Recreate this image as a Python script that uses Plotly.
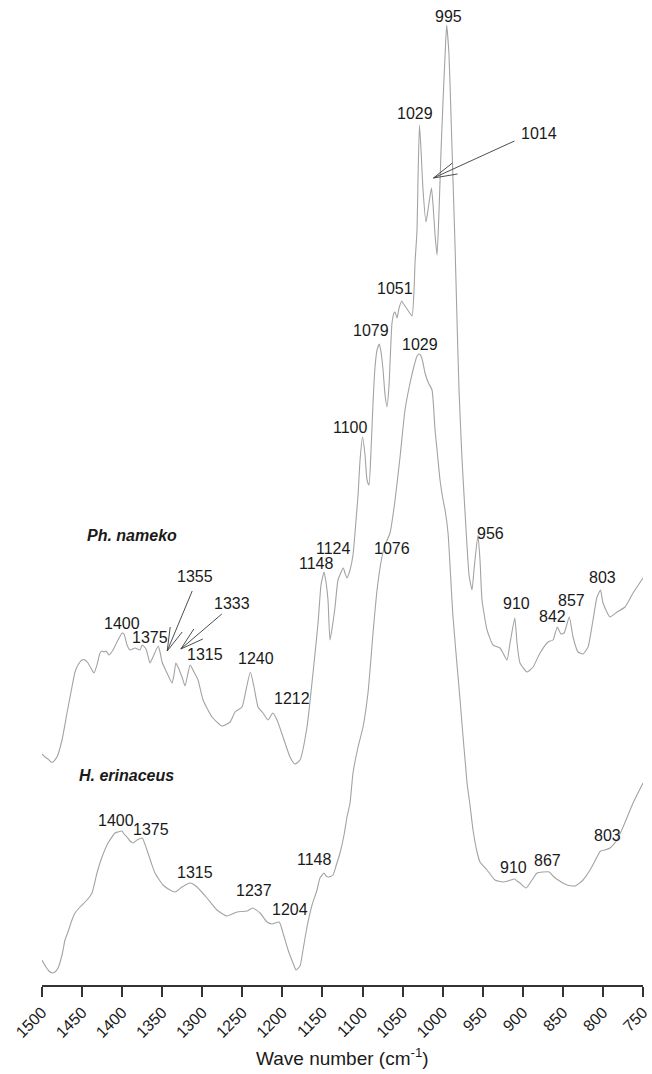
import numpy as np
import plotly.graph_objects as go

# ---------------- spectra (wavenumber in cm-1, absorbance in a.u.) ----------------
nameko_wn = [1500, 1496.3, 1492.5, 1488.8, 1486.3, 1481.3, 1475.0, 1468.8, 1462.6, 1458.8,
             1455.1, 1450.1, 1446.3, 1442.6, 1437.6, 1435.1, 1431.4, 1427.6, 1425.1, 1422.6,
             1420.1, 1416.4, 1411.4, 1406.4, 1400, 1397.7, 1393.9, 1390.2, 1383.9, 1377.7,
             1375, 1370.2, 1365.2, 1361.5, 1355, 1352.7, 1350.2, 1344.0, 1337.8, 1335.3,
             1333, 1330.3, 1325.3, 1321.5, 1317.8, 1315, 1310.3, 1305.3, 1299.0, 1287.8,
             1275.3, 1265.3, 1259.1, 1250.4, 1245.4, 1240, 1235.4, 1230.4, 1224.2, 1218.0,
             1212, 1206.7, 1199.2, 1190.5, 1184.3, 1178.0, 1169.3, 1161.8, 1155.5, 1151.8,
             1148, 1145.6, 1143.1, 1140.6, 1136.8, 1134.3, 1130.6, 1124, 1121.9, 1119.4,
             1115.6, 1111.9, 1108.1, 1105.6, 1103.1, 1100, 1096.9, 1094.4, 1091.9, 1089.4,
             1086.9, 1084.4, 1081.9, 1079, 1076.9, 1074.4, 1071.9, 1069.4, 1066.9, 1065.7,
             1063.2, 1060.7, 1059.4, 1056.9, 1054.4, 1051, 1049.5, 1047.0, 1042.0, 1038.2,
             1035.7, 1034.5, 1032.0, 1030.8, 1029, 1027.0, 1024.5, 1020.8, 1018.3, 1014,
             1012.0, 1009.5, 1007.0, 1004.5, 1002.0, 999.5, 997.0, 995, 992.1, 989.6,
             987.1, 984.6, 982.1, 979.6, 975.8, 970.8, 967.1, 963.4, 960.9, 956,
             953.4, 950.9, 944.6, 937.1, 928.4, 924.7, 919.7, 915.9, 910, 907.2,
             903.5, 894.7, 887.2, 878.5, 868.5, 862.3, 857, 852.3, 848.5, 842,
             837.3, 831.1, 824.9, 818.6, 812.4, 807.4, 803, 799.9, 791.2, 782.4,
             772.4, 762.4, 750]
nameko_abs = [0.241, 0.238, 0.236, 0.233, 0.233, 0.238, 0.255, 0.282, 0.308, 0.323,
              0.330, 0.335, 0.335, 0.332, 0.325, 0.322, 0.330, 0.342, 0.344, 0.343,
              0.344, 0.340, 0.345, 0.353, 0.362, 0.361, 0.350, 0.345, 0.347, 0.345,
              0.350, 0.346, 0.332, 0.338, 0.349, 0.343, 0.333, 0.322, 0.312, 0.320,
              0.332, 0.328, 0.318, 0.309, 0.322, 0.330, 0.323, 0.315, 0.295, 0.278,
              0.269, 0.273, 0.283, 0.288, 0.305, 0.323, 0.308, 0.288, 0.282, 0.275,
              0.282, 0.275, 0.258, 0.238, 0.231, 0.235, 0.268, 0.322, 0.372, 0.410,
              0.423, 0.413, 0.395, 0.355, 0.373, 0.388, 0.415, 0.427, 0.422, 0.417,
              0.425, 0.440, 0.475, 0.500, 0.535, 0.558, 0.540, 0.515, 0.510, 0.545,
              0.592, 0.628, 0.645, 0.651, 0.643, 0.625, 0.600, 0.588, 0.610, 0.632,
              0.672, 0.682, 0.683, 0.677, 0.687, 0.694, 0.692, 0.689, 0.683, 0.679,
              0.705, 0.732, 0.765, 0.815, 0.870, 0.845, 0.805, 0.773, 0.785, 0.807,
              0.790, 0.760, 0.740, 0.785, 0.845, 0.895, 0.940, 0.970, 0.940, 0.880,
              0.815, 0.750, 0.675, 0.605, 0.535, 0.465, 0.420, 0.405, 0.425, 0.460,
              0.435, 0.395, 0.365, 0.350, 0.347, 0.342, 0.335, 0.352, 0.377, 0.352,
              0.332, 0.323, 0.328, 0.342, 0.353, 0.355, 0.368, 0.361, 0.362, 0.378,
              0.358, 0.343, 0.341, 0.348, 0.375, 0.398, 0.405, 0.392, 0.378, 0.383,
              0.388, 0.402, 0.417]

erin_wn = [1500, 1495.0, 1491.3, 1487.5, 1483.8, 1480.0, 1475.0, 1471.3, 1467.6, 1462.6,
           1458.8, 1452.6, 1443.8, 1437.6, 1431.4, 1425.1, 1417.6, 1408.9, 1405.2, 1400,
           1397.7, 1393.9, 1390.2, 1386.4, 1381.4, 1375, 1369.0, 1364.0, 1359.0, 1349.0,
           1340.3, 1334.0, 1325.3, 1315, 1311.6, 1306.6, 1294.1, 1281.6, 1269.2, 1256.6,
           1244.2, 1237, 1227.9, 1219.2, 1212.9, 1204, 1199.2, 1192.9, 1186.8, 1183.0,
           1178.0, 1174.3, 1169.3, 1163.0, 1156.8, 1153.1, 1148, 1145.6, 1141.8, 1136.8,
           1133.1, 1128.1, 1123.1, 1119.4, 1115.6, 1111.9, 1105.6, 1099.4, 1093.2, 1086.9,
           1081.9, 1076, 1071.9, 1065.7, 1059.4, 1053.2, 1047.0, 1040.7, 1035.7, 1032.0,
           1029, 1027.0, 1024.5, 1022.0, 1018.3, 1013.3, 1009.5, 1005.8, 1003.3, 999.5,
           997.0, 993.3, 987.1, 978.3, 969.6, 965.9, 962.1, 957.1, 953.4, 944.6,
           934.7, 924.7, 918.4, 910, 907.2, 903.5, 896.0, 888.5, 882.2, 874.8,
           867, 862.3, 856.0, 844.8, 834.8, 824.9, 816.1, 807.4, 803, 797.5,
           791.2, 782.4, 774.9, 762.4, 750]
erin_abs = [0.035, 0.028, 0.024, 0.022, 0.023, 0.027, 0.040, 0.055, 0.063, 0.075,
            0.082, 0.088, 0.095, 0.102, 0.122, 0.138, 0.152, 0.162, 0.163, 0.164,
            0.161, 0.158, 0.154, 0.152, 0.155, 0.157, 0.145, 0.133, 0.122, 0.110,
            0.105, 0.103, 0.108, 0.112, 0.111, 0.108, 0.097, 0.085, 0.079, 0.083,
            0.084, 0.087, 0.082, 0.073, 0.071, 0.073, 0.062, 0.045, 0.032, 0.025,
            0.029, 0.045, 0.068, 0.090, 0.105, 0.117, 0.122, 0.119, 0.118, 0.120,
            0.129, 0.142, 0.160, 0.178, 0.192, 0.222, 0.248, 0.268, 0.302, 0.362,
            0.405, 0.437, 0.450, 0.462, 0.495, 0.538, 0.585, 0.612, 0.629, 0.639,
            0.641, 0.639, 0.632, 0.622, 0.613, 0.605, 0.565, 0.535, 0.515, 0.495,
            0.485, 0.462, 0.378, 0.295, 0.212, 0.190, 0.165, 0.143, 0.133, 0.125,
            0.115, 0.113, 0.114, 0.116, 0.114, 0.112, 0.107, 0.115, 0.122, 0.123,
            0.123, 0.119, 0.115, 0.110, 0.109, 0.115, 0.125, 0.138, 0.144, 0.145,
            0.147, 0.155, 0.168, 0.192, 0.212]

# ---------------- peak labels ----------------
nameko_peaks = [995, 1029, 1051, 1079, 1100, 1124, 1148, 1400, 1375, 1315,
                1240, 1212, 956, 910, 857, 842, 803]
nameko_arrow_peaks = [1014, 1355, 1333]
erin_peaks = [1029, 1076, 1400, 1375, 1315, 1237, 1204, 1148, 910, 867, 803]

tick_vals = list(range(1500, 749, -50))

# label offsets from each peak (pixels: right, up)
nameko_label_shift = {995: (2, 9), 1029: (-4, 12), 1051: (-7, 13), 1079: (-8, 14),
                      1100: (-12, 10), 1124: (-10, 20), 1148: (-8, 9), 1400: (0, 10),
                      1375: (8, 8), 1315: (15, 11), 1240: (6, 14), 1212: (19, 15),
                      956: (13, 2), 910: (2, 15), 857: (14, 27), 842: (-17, 1), 803: (2, 13)}
erin_label_shift = {1029: (1, 10), 1076: (10, 10), 1400: (-6, 11), 1375: (9, 9),
                    1315: (5, 11), 1237: (1, 18), 1204: (11, 13), 1148: (-10, 14),
                    910: (-1, 12), 867: (-2, 12), 803: (7, 16)}
# pointer geometry in pixels (right, up): tip relative to the peak,
# tail / head barbs / label relative to the tip
arrow_geom = {1014: dict(tip=(2, 10), tail=(81, 37), barbs=[(19, 15), (24, 4)],
                         text=(106, 45)),
              1355: dict(tip=(9, -5), tail=(25, 60), barbs=[(3, 24), (15, 19)],
                         text=(28, 75)),
              1333: dict(tip=(5, 14), tail=(41, 35), barbs=[(13, 20), (22, 10)],
                         text=(51, 46))}

LINE = "#a3a3a3"
INK = "#1a1a1a"
FONT = "Liberation Sans, Arial, sans-serif"
LABEL_SIZE = 16


def value_at(wn, xs, ys):
    xs = np.asarray(xs)[::-1]
    ys = np.asarray(ys)[::-1]
    return float(np.interp(wn, xs, ys))


fig = go.Figure()
for xs, ys in ((nameko_wn, nameko_abs), (erin_wn, erin_abs)):
    fig.add_trace(go.Scatter(x=xs, y=ys, mode="lines",
                             line=dict(color=LINE, width=1.1, shape="spline", smoothing=0.5),
                             hoverinfo="skip"))

annotations = []
shapes = []


def peak_label(wn, y, dx, dy):
    annotations.append(dict(x=wn, y=y, text=str(wn), showarrow=False,
                            xshift=dx, yshift=dy, xanchor="center", yanchor="middle",
                            font=dict(size=LABEL_SIZE, color=INK, family=FONT)))


for wn in nameko_peaks:
    peak_label(wn, value_at(wn, nameko_wn, nameko_abs), *nameko_label_shift[wn])
for wn in erin_peaks:
    peak_label(wn, value_at(wn, erin_wn, erin_abs), *erin_label_shift[wn])

# pointer lines with open heads for the crowded peaks
for wn in nameko_arrow_peaks:
    g = arrow_geom[wn]
    y0 = value_at(wn, nameko_wn, nameko_abs)
    tx, ty = g["tip"]
    for sx, sy in [g["tail"]] + g["barbs"]:
        shapes.append(dict(type="line", xref="x", yref="y",
                           xsizemode="pixel", ysizemode="pixel",
                           xanchor=wn, yanchor=y0,
                           x0=tx, y0=ty, x1=tx + sx, y1=ty + sy,
                           line=dict(color="#3a3a3a", width=0.9)))
    peak_label(wn, y0, tx + g["text"][0], ty + g["text"][1])

# sample names
annotations.append(dict(x=1388, y=0.460, text="<b><i>Ph. nameko</i></b>", showarrow=False,
                        xanchor="center", yanchor="middle",
                        font=dict(size=16, color=INK, family=FONT)))
annotations.append(dict(x=1394, y=0.220, text="<b><i>H. erinaceus</i></b>", showarrow=False,
                        xanchor="center", yanchor="middle",
                        font=dict(size=16, color=INK, family=FONT)))

# axis title
annotations.append(dict(x=0.5, y=-0.0738, xref="paper", yref="paper",
                        text="Wave number (cm<sup>-1</sup>)", showarrow=False,
                        xanchor="center", yanchor="middle",
                        font=dict(size=19, color=INK, family=FONT)))

fig.update_layout(
    width=652, height=1074,
    margin=dict(l=42, r=9, t=10, b=89, pad=0, autoexpand=False),
    paper_bgcolor="white", plot_bgcolor="white",
    showlegend=False,
    annotations=annotations,
    shapes=shapes,
    xaxis=dict(range=[1500, 750], tickvals=tick_vals, ticktext=[str(v) for v in tick_vals],
               tickangle=-45, ticks="outside", ticklen=10, tickwidth=1.6, tickcolor="#333",
               showline=True, linecolor="#333", linewidth=1.6, showgrid=False,
               zeroline=False, automargin=False,
               tickfont=dict(size=16, color=INK, family=FONT)),
    yaxis=dict(range=[0.010, 0.985], visible=False, showgrid=False, zeroline=False,
               automargin=False),
)

fig.write_html("out.html")
